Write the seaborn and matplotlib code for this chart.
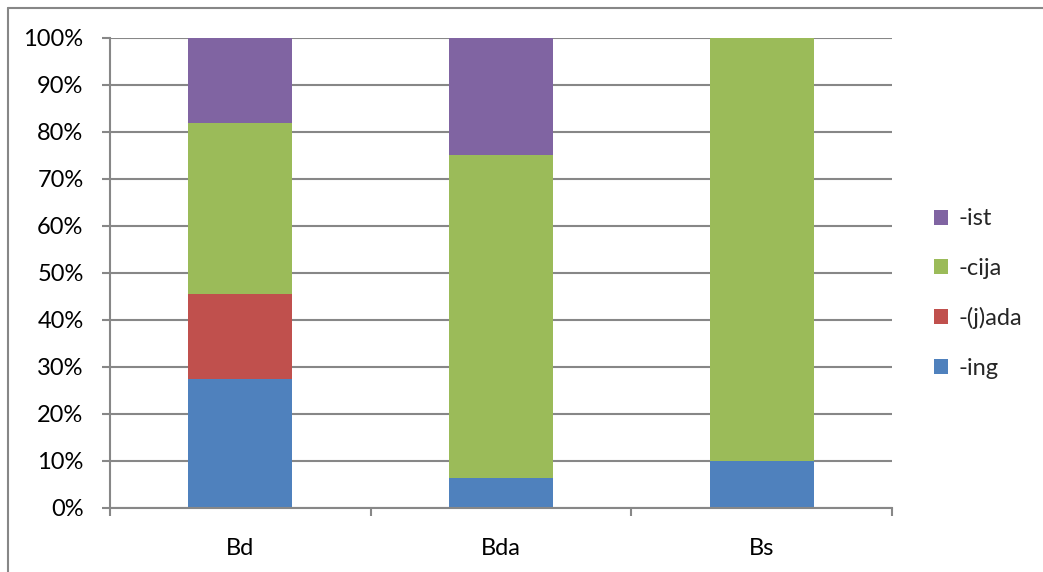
import matplotlib
matplotlib.use("Agg")
import matplotlib.pyplot as plt
import seaborn as sns
import numpy as np
from matplotlib.lines import Line2D
from matplotlib.patches import Patch
from matplotlib.ticker import PercentFormatter, MultipleLocator, FixedLocator, NullFormatter

categories = ["Bd", "Bda", "Bs"]
series_names = ["-ing", "-(j)ada", "-cija", "-ist"]
ing = [27.27, 6.25, 10.0]
jada = [18.18, 0.0, 0.0]
cija = [36.36, 68.75, 90.0]
ist = [18.18, 25.0, 0.0]
colors = ["#4F81BD", "#C0504D", "#9BBB59", "#8064A2"]

sns.set_theme(style="white")
plt.rcParams["font.family"] = ["Lato", "DejaVu Sans"]

W, H = 1043, 572
fig = plt.figure(figsize=(W / 100, H / 100), dpi=100)
fig.subplots_adjust(left=110 / W, right=892 / W, top=1 - 37.5 / H, bottom=1 - 507.5 / H)
ax = fig.add_subplot(111)

grid_c = "#878787"
series = [ing, jada, cija, ist]
bottom = np.zeros(len(categories))
for name, vals, c in zip(series_names, series, colors):
    sns.barplot(x=categories, y=vals, bottom=bottom.copy(), color=c, saturation=1,
                width=0.4, ax=ax, zorder=3, linewidth=0)
    bottom = bottom + np.array(vals)
if ax.get_legend() is not None:
    ax.get_legend().remove()

ax.set_xlim(-0.5, 2.5)
ax.set_ylim(0, 100)
ax.yaxis.set_major_locator(MultipleLocator(10))
ax.yaxis.set_major_formatter(PercentFormatter(decimals=0))
ax.grid(axis="y", color=grid_c, linewidth=1.5, zorder=0)
ax.grid(axis="x", visible=False)
ax.set_axisbelow(True)

for s in ["top", "right"]:
    ax.spines[s].set_visible(False)
for s in ["left", "bottom"]:
    ax.spines[s].set_color(grid_c)
    ax.spines[s].set_linewidth(1.5)
    ax.spines[s].set_zorder(4)

ax.tick_params(axis="y", which="major", left=True, length=6, width=1.5, color=grid_c,
               labelsize=17, pad=13, labelcolor="black")
ax.tick_params(axis="x", which="major", bottom=False, length=0, labelsize=17, pad=22,
               labelcolor="black")
ax.xaxis.set_minor_locator(FixedLocator([-0.5, 0.5, 1.5, 2.5]))
ax.xaxis.set_minor_formatter(NullFormatter())
ax.tick_params(axis="x", which="minor", bottom=True, length=6, width=1.5, color=grid_c)
ax.set_xlabel("")
ax.set_ylabel("")

handles = [Patch(facecolor=c, edgecolor="none") for c in colors[::-1]]
labels = series_names[::-1]
fig.legend(handles, labels, loc="center left", bbox_to_anchor=(934 / W, 1 - 293.5 / H),
           frameon=False, fontsize=17, handlelength=0.6, handleheight=0.6,
           handletextpad=0.45, labelspacing=1.2, borderpad=0, borderaxespad=0)

# outer chart frame
fig.add_artist(Line2D([7.5 / W, 7.5 / W], [0, 1 - 7.5 / H], transform=fig.transFigure,
                      color=grid_c, linewidth=1.5))
fig.add_artist(Line2D([7.5 / W, 1], [1 - 7.5 / H, 1 - 7.5 / H], transform=fig.transFigure,
                      color=grid_c, linewidth=1.5))

fig.savefig("out.png", dpi=100)
